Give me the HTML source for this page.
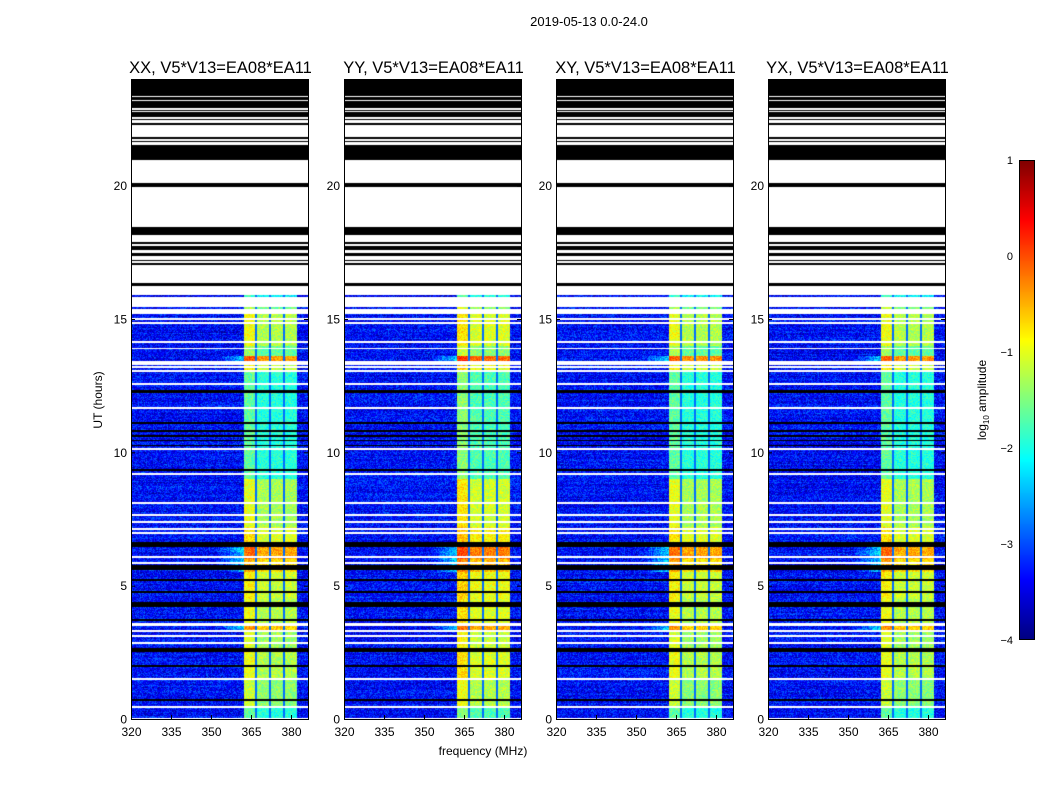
<!DOCTYPE html>
<html><head><meta charset="utf-8"><style>
body{margin:0;background:#fff;width:1050px;height:800px;overflow:hidden;font-family:"Liberation Sans",sans-serif}
canvas{position:absolute}
svg{position:absolute;left:0;top:0}
</style></head><body>
<div style="position:relative;width:1050px;height:800px">
<canvas id="c0" width="177" height="640" style="left:131px;top:79px"></canvas>
<canvas id="c1" width="177" height="640" style="left:344px;top:79px"></canvas>
<canvas id="c2" width="177" height="640" style="left:556px;top:79px"></canvas>
<canvas id="c3" width="177" height="640" style="left:768px;top:79px"></canvas>
<canvas id="cb" width="15" height="480" style="left:1019px;top:160px"></canvas>
<svg id="ov" width="1050" height="800"></svg>
</div>
<script>
// ---- data ----
const panelTitles=["XX, V5*V13=EA08*EA11","YY, V5*V13=EA08*EA11","XY, V5*V13=EA08*EA11","YX, V5*V13=EA08*EA11"];
const panelOffsets=[0,0.2,0,0];
const xTicks=[320,335,350,365,380];
const yTicks=[0,5,10,15,20];
const cbTicks=[1,0,-1,-2,-3,-4];
// flagged (black) time intervals [start,end] in hours
const flagStart=[23.36,23.2,22.9,22.8,22.56,22.45,22.26,21.74,21.62,20.95,19.94,18.14,17.8,17.58,17.35,17.17,17.02,16.23,12.22,11.08,10.78,10.59,10.41,10.22,9.29,6.45,5.58,5.17,4.72,4.2,3.67,2.51,1.95,0.67];
const flagEnd=  [24.1,23.31,23.16,22.85,22.75,22.49,22.34,21.81,21.66,21.51,20.09,18.44,17.88,17.73,17.46,17.2,17.09,16.34,12.33,11.15,10.85,10.66,10.48,10.29,9.36,6.63,5.77,5.24,4.79,4.39,3.74,2.66,2.03,0.75];
// white (no-data) gaps within observed span
const gapStart=[15.22,14.97,14.81,14.1,13.87,13.27,13.16,13.01,12.53,11.63,10.09,9.15,8.07,7.62,7.35,7.09,6.94,6.04,5.82,3.49,3.27,3.08,2.82,1.47,0.42,0.0];
const gapEnd=  [15.28,15.03,14.87,14.16,13.93,13.42,13.22,13.07,12.59,11.69,10.15,9.21,8.13,7.68,7.41,7.15,7.0,6.1,5.88,3.6,3.33,3.14,2.88,1.53,0.48,0.05];
// observed data spans (hours)
const dataStart=[0,15.38,15.82];
const dataEnd=[15.2,15.45,15.9];
// band level (log10 amplitude) per time segment
const bandT0=[0,0.5,1.5,2.5,3.3,3.5,4.5,5.5,6.0,6.6,7.2,9.0,13.0,13.42,13.6,14.0,15.3,15.8];
const bandT1=[0.5,1.5,2.5,3.3,3.5,4.5,5.5,6.0,6.6,7.2,9.0,13.0,13.42,13.6,14.0,15.2,15.5,15.95];
const bandLv=[-1.8,-1.3,-1.1,-1.2,-0.5,-1.1,-1.0,-0.6,-0.3,-0.9,-1.15,-1.8,-1.0,-0.2,-1.5,-1.1,-1.4,-2.0];
const bandLo=362.3, bandHi=382.2;
const stripeF=[366.9,372.1,377.4];
const bgLevel=-3.35;

// ---- scales ----
const W=177,H=640,f0=320,f1=320+177/2.667,t1=24;
function fx(f){return (f-f0)/(f1-f0)*W;}
function hy(h){return H-h/t1*H;}
function jet(t){t=Math.max(0,Math.min(1,t));const c=v=>Math.round(255*Math.max(0,Math.min(1,v)));
 return [c(1.5-Math.abs(4*t-3)),c(1.5-Math.abs(4*t-2)),c(1.5-Math.abs(4*t-1))];}
function hash(a,b,s){let n=(a*374761393+b*668265263+s*2147483647)|0;n=(n^(n>>>13))*1274126177|0;return ((n^(n>>>16))>>>0)/4294967295;}
function inAny(h,s,e){for(let i=0;i<s.length;i++)if(h>=s[i]&&h<e[i])return true;return false;}
function bandAt(h){for(let i=0;i<bandT0.length;i++)if(h>=bandT0[i]&&h<bandT1[i])return bandLv[i];return -1.5;}

for(let p=0;p<4;p++){
 const cv=document.getElementById('c'+p),ctx=cv.getContext('2d'),img=ctx.createImageData(W,H);
 for(let y=0;y<H;y++){
  const h=(H-y-0.5)/H*t1;
  let mode;
  if(inAny(h,flagStart,flagEnd))mode=0;else if(!inAny(h,dataStart,dataEnd)||inAny(h,gapStart,gapEnd))mode=1;else mode=2;
  const bl=bandAt(h)+panelOffsets[p];
  const rowAdj=(hash(y,7,p)-0.5)*0.3;
  for(let x=0;x<W;x++){
   const i=(y*W+x)*4;let col;
   if(mode===0)col=[0,0,0];else if(mode===1)col=[255,255,255];
   else{
    const f=f0+(x+0.5)/W*(f1-f0);
    let v=bgLevel+rowAdj+(hash(x,y,p)-0.5)*0.9;
    if(f>=bandLo&&f<=bandHi){
     let s=false;for(const sf of stripeF)if(Math.abs(f-sf)<0.45)s=true;
     const colAdj=(f<366.5?0.15:-0.15);
     v=s?bgLevel+0.5:bl+colAdj+(hash(x,y,p+9)-0.5)*0.6;
    }else if(f>352&&f<bandLo&&bl>-0.7){v+= (f-352)/(bandLo-352)*1.0;}
    col=jet((v+4)/5);
   }
   img.data[i]=col[0];img.data[i+1]=col[1];img.data[i+2]=col[2];img.data[i+3]=255;
  }
 }
 ctx.putImageData(img,0,0);
}
// colorbar
{const cv=document.getElementById('cb'),ctx=cv.getContext('2d');
 for(let y=0;y<480;y++){const c=jet(1-y/479);ctx.fillStyle=`rgb(${c})`;ctx.fillRect(0,y,15,1);}}

// ---- overlay ----
const NS="http://www.w3.org/2000/svg",ov=document.getElementById('ov');
function el(tag,attrs,txt){const e=document.createElementNS(NS,tag);for(const k in attrs)e.setAttribute(k,attrs[k]);if(txt!==undefined)e.textContent=txt;ov.appendChild(e);return e;}
const lefts=[131,344,556,768],top0=79;
lefts.forEach((L,p)=>{
 const fr=el('rect',{x:L+0.5,y:top0+0.5,width:W,height:H,fill:'none',stroke:'#000','stroke-width':1});
 
 
 const tt=el('text',{x:L+W/2+1,y:top0-6,'text-anchor':'middle','font-size':16.5},panelTitles[p]);
 
 
 xTicks.forEach(v=>{const X=L+fx(v)+0.5;
  el('line',{x1:X,x2:X,y1:top0+H,y2:top0+H-4,stroke:'#000'});el('line',{x1:X,x2:X,y1:top0,y2:top0+4,stroke:'#000'});
  const t=el('text',{x:X,y:top0+H+17,'text-anchor':'middle','font-size':12},String(v));
  
  });
 yTicks.forEach(v=>{const Y=top0+hy(v)+0.5;
  el('line',{x1:L,x2:L+4,y1:Y,y2:Y,stroke:'#000'});el('line',{x1:L+W,x2:L+W-4,y1:Y,y2:Y,stroke:'#000'});
  const t=el('text',{x:L-4,y:Y+4,'text-anchor':'end','font-size':12},String(v));
  
  });
});
const st=el('text',{x:589,y:26,'text-anchor':'middle','font-size':13},"2019-05-13 0.0-24.0");


const yl=el('text',{x:0,y:0,'text-anchor':'middle','font-size':12,transform:'translate(102,400) rotate(-90)'},"UT (hours)");


const xl=el('text',{x:483,y:755,'text-anchor':'middle','font-size':12},"frequency (MHz)");


el('rect',{x:1019.5,y:160.5,width:15,height:479,fill:'none',stroke:'#000'});
cbTicks.forEach(v=>{const Y=160+(1-v)/5*480;
 const t=el('text',{x:1013,y:Y+4,'text-anchor':'end','font-size':11},v<0?'\u2212'+(-v):String(v));
 
 });
const cl=el('text',{x:0,y:0,'text-anchor':'middle','font-size':12,transform:'translate(986,400) rotate(-90)'});


cl.innerHTML='log<tspan font-size="8" dy="3">10</tspan><tspan dy="-3"> amplitude</tspan>';
</script>
</body></html>
